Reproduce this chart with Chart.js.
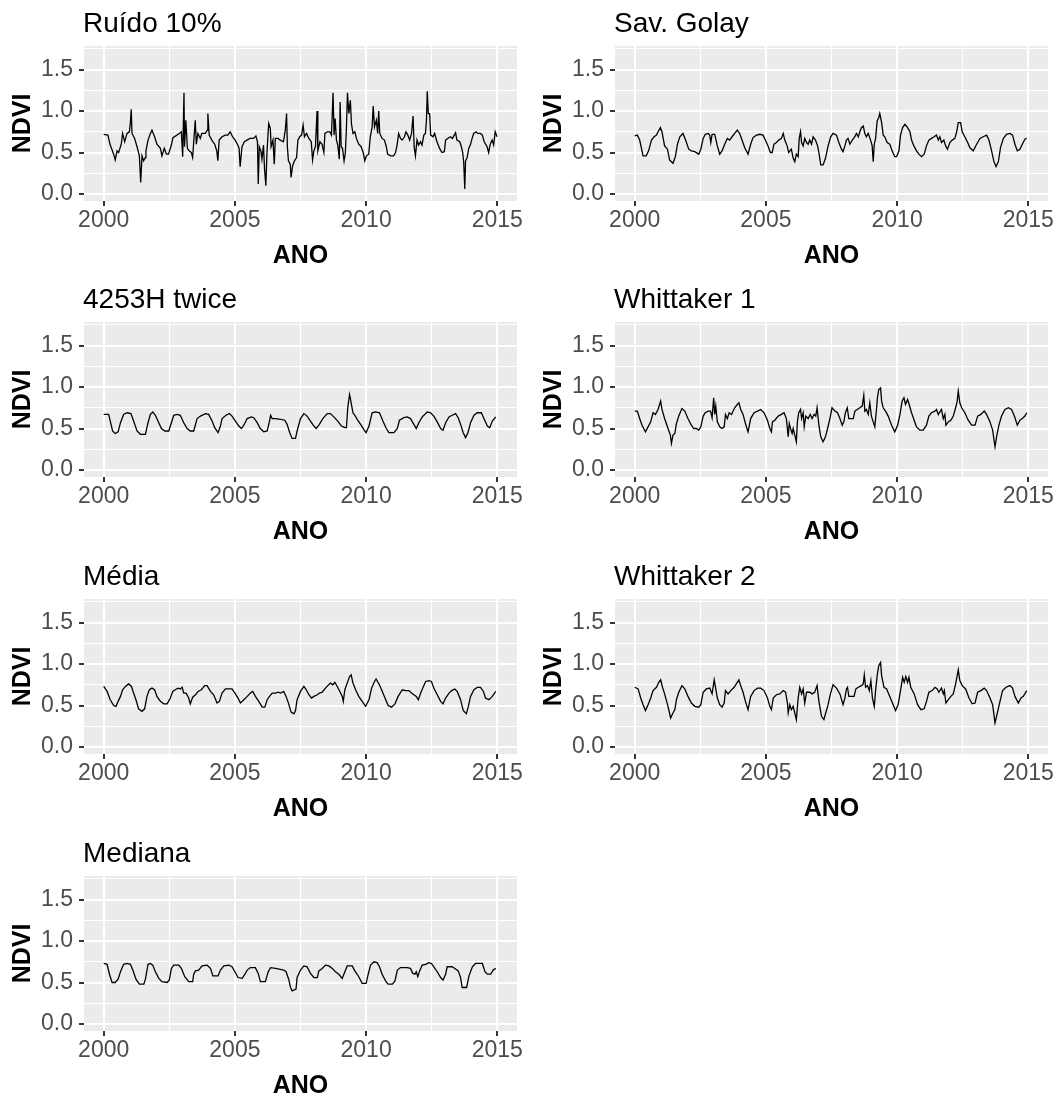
<!DOCTYPE html>
<html><head><meta charset="utf-8">
<script src="https://cdn.jsdelivr.net/npm/chart.js@4.4.1/dist/chart.umd.min.js"></script>
<style>
html,body{margin:0;padding:0;background:#fff;overflow:hidden;}
#wrap{position:relative;width:1059px;height:1099px;overflow:hidden;}
#wrap canvas{position:absolute;}
</style></head><body><div id="wrap"></div>
<script>
// ---- axes ----
const START_YEAR = 2000;
const xTickValues = [2000, 2005, 2010, 2015];
const xTickLabels = ['2000', '2005', '2010', '2015'];
const xMinorValues = [2002.5, 2007.5, 2012.5];
const yTickValues = [0, 0.5, 1, 1.5];
const yTickLabels = ['0.0', '0.5', '1.0', '1.5'];
const yMinorValues = [0.25, 0.75, 1.25, 1.75];
const panelTitles = ['Ruído 10%', 'Sav. Golay', '4253H twice', 'Whittaker 1', 'Média', 'Whittaker 2', 'Mediana'];
const xAxisTitle = 'ANO';
const yAxisTitle = 'NDVI';

// ---- series (t = years since START_YEAR, v = NDVI) ----
const ruidoT = [0,.16,.25,.38,.44,.51,.57,.67,.72,.80,.89,.98,1.02,1.05,1.08,1.18,1.27,1.36,1.41,1.46,1.52,1.59,1.61,1.69,1.78,1.84,1.94,2.03,2.16,2.22,2.31,2.39,2.47,2.58,2.64,2.79,2.88,2.96,3.01,3.06,3.08,3.13,3.19,3.26,3.34,3.39,3.44,3.49,3.53,3.59,3.68,3.74,3.87,3.95,3.97,4.02,4.12,4.23,4.31,4.35,4.40,4.51,4.63,4.73,4.82,4.91,5.01,5.11,5.16,5.20,5.27,5.36,5.46,5.58,5.71,5.80,5.86,5.89,5.93,5.99,6.03,6.09,6.13,6.18,6.22,6.26,6.29,6.35,6.38,6.45,6.50,6.54,6.64,6.73,6.85,6.92,6.97,7.00,7.04,7.11,7.14,7.20,7.27,7.35,7.40,7.47,
7.54,7.60,7.65,7.73,7.82,7.91,7.96,8.01,8.07,8.13,8.16,8.24,8.32,8.39,8.43,8.52,8.62,8.68,8.74,8.78,8.82,8.87,8.92,8.98,9.01,9.05,9.10,9.16,9.21,9.25,9.29,9.34,9.40,9.44,9.50,9.57,9.63,9.72,9.81,9.89,9.95,10.01,10.10,10.16,10.23,10.27,10.32,10.39,10.44,10.48,10.52,10.61,10.70,10.77,10.82,10.93,11.05,11.12,11.18,11.24,11.31,11.37,11.46,11.52,11.59,11.66,11.73,11.79,11.83,11.88,11.94,12.00,12.07,12.13,12.20,12.26,12.30,12.33,12.37,12.42,12.46,12.55,12.61,12.70,12.80,12.89,12.98,13.03,13.11,13.21,13.29,13.36,13.41,13.46,13.57,13.63,13.68,13.72,13.76,13.79,13.85,13.91,13.97,14.04,14.10,14.19,14.26,14.35,14.43,14.50,14.61,14.67,14.73,14.80,14.86,14.92,14.99];
const ruidoV = [.72,.71,.59,.48,.41,.52,.50,.60,.73,.63,.73,.75,.87,1.02,.73,.67,.57,.46,.14,.46,.40,.44,.52,.65,.73,.77,.69,.60,.55,.46,.55,.48,.48,.59,.68,.71,.73,.75,.45,1.22,.57,.89,.55,.52,.50,.44,.67,.89,.60,.73,.67,.73,.73,.77,.97,.71,.65,.60,.52,.40,.65,.69,.71,.71,.75,.69,.65,.59,.55,.33,.57,.63,.65,.67,.67,.70,.63,.12,.57,.52,.42,.59,.30,.10,.48,.71,.85,.79,.57,.65,.36,.67,.67,.65,.63,.77,.97,.57,.40,.36,.20,.34,.40,.44,.65,.69,
.71,.83,.69,.73,.67,.63,.41,.52,.57,1.00,.52,.63,.60,.50,.73,.75,.75,.71,1.22,.71,.91,.65,.59,.42,1.11,.57,.55,.40,.50,.79,1.22,.97,1.13,.85,.73,.75,.67,.60,.57,.50,.40,.46,.48,.69,.81,1.06,.81,.89,.73,1.00,.73,.67,.65,.57,.48,.46,.46,.50,.59,.73,.67,.65,.69,.75,.71,.65,.73,.94,.57,.46,.65,.59,.63,.59,.71,.73,.89,1.24,.97,.97,.71,.69,.73,.63,.55,.50,.51,.65,.67,.69,.67,.71,.74,.65,.63,.57,.50,.38,.06,.40,.44,.55,.59,.67,.73,.75,.73,.73,.71,.63,.57,.50,.60,.65,.59,.75,.69];

const savgolT = [0,.10,.19,.32,.44,.53,.64,.74,.83,.89,.98,1.04,1.14,1.25,1.33,1.46,1.55,1.63,1.72,1.84,1.94,2.06,2.16,2.29,2.44,2.52,2.61,2.69,2.80,2.86,2.90,2.95,3.05,3.15,3.24,3.33,3.43,3.53,3.62,3.71,3.81,3.91,4.00,4.09,4.19,4.32,4.42,4.51,4.64,4.77,4.89,4.98,5.08,5.17,5.24,5.31,5.40,5.49,5.59,5.66,5.72,5.81,5.87,5.97,6.04,6.10,6.16,6.23,6.27,6.32,6.36,6.42,6.48,6.55,6.61,6.67,6.74,6.80,6.89,6.97,7.03,7.09,7.18,7.27,7.37,7.47,7.56,7.69,7.78,7.88,7.94,8.01,8.07,8.13,8.20,8.29,8.39,8.45,8.52,8.58,8.64,8.71,8.77,8.83,8.90,8.99,9.05,9.09,9.13,9.18,9.24,9.30,9.34,9.41,9.47,9.53,9.62,9.72,9.81,9.91,9.98,10.07,10.13,10.21,10.30,10.40,10.49,10.55,10.64,10.74,10.83,10.93,11.03,11.12,11.21,11.31,11.41,11.50,11.57,11.63,11.69,11.78,11.85,11.92,12.01,12.10,12.20,12.27,12.33,12.42,12.48,12.58,12.69,12.77,12.90,13.03,13.16,13.28,13.41,13.50,13.60,13.69,13.77,13.86,13.94,14.05,14.17,14.30,14.40,14.49,14.58,14.68,14.77,14.87,14.94];
const savgolV = [.70,.71,.65,.46,.46,.52,.65,.69,.71,.75,.80,.75,.58,.54,.41,.37,.45,.60,.69,.73,.65,.54,.52,.51,.48,.54,.67,.72,.73,.71,.62,.72,.72,.58,.48,.52,.60,.67,.65,.69,.73,.77,.73,.65,.56,.48,.60,.68,.71,.72,.71,.65,.58,.50,.50,.60,.62,.65,.67,.73,.65,.58,.50,.54,.43,.39,.48,.45,.67,.75,.62,.58,.67,.62,.60,.65,.60,.69,.65,.58,.48,.35,.35,.43,.58,.69,.73,.71,.62,.54,.51,.58,.65,.67,.60,.65,.69,.73,.69,.75,.80,.82,.73,.69,.73,.65,.58,.39,.60,.67,.88,.92,.97,.86,.71,.69,.62,.60,.52,.45,.45,.52,.71,.80,.84,.80,.75,.65,.58,.52,.48,.45,.48,.58,.65,.67,.69,.71,.65,.69,.62,.65,.58,.54,.62,.65,.67,.75,.86,.86,.75,.69,.62,.56,.52,.60,.67,.69,.71,.65,.52,.39,.33,.39,.56,.67,.72,.73,.71,.60,.52,.54,.60,.66,.67];

const h4253T = [0,.19,.25,.34,.44,.55,.64,.76,.89,1.04,1.14,1.27,1.40,1.59,1.69,1.78,1.87,1.97,2.10,2.20,2.33,2.48,2.58,2.67,2.80,2.92,3.05,3.18,3.30,3.43,3.56,3.69,3.88,4.00,4.13,4.23,4.36,4.45,4.51,4.66,4.79,4.89,5.02,5.15,5.25,5.34,5.47,5.63,5.72,5.85,5.97,6.10,6.23,6.32,6.36,6.42,6.55,6.74,6.90,6.99,7.09,7.18,7.31,7.37,7.50,7.63,7.75,7.88,8.01,8.10,8.22,8.35,8.52,8.64,8.77,8.92,9.06,9.19,9.25,9.30,9.37,9.41,9.44,9.50,9.57,9.66,9.79,9.91,10.00,10.11,10.23,10.36,10.51,10.64,10.77,10.87,11.06,11.19,11.27,11.44,11.57,11.69,11.82,11.91,12.01,12.14,12.33,12.46,12.58,12.71,12.84,12.93,13.03,13.16,13.28,13.41,13.51,13.60,13.70,13.79,13.88,13.98,14.11,14.24,14.39,14.49,14.62,14.71,14.81,14.94];
const h4253V = [.67,.67,.59,.47,.44,.46,.57,.67,.69,.68,.59,.47,.43,.43,.57,.67,.70,.66,.57,.50,.47,.47,.57,.66,.67,.66,.57,.50,.47,.47,.62,.65,.68,.67,.59,.51,.45,.53,.62,.66,.68,.65,.59,.53,.50,.54,.62,.64,.63,.57,.50,.46,.47,.59,.66,.62,.62,.61,.60,.55,.45,.38,.38,.47,.62,.68,.65,.59,.53,.50,.55,.62,.68,.68,.64,.59,.53,.51,.51,.75,.91,.85,.79,.69,.66,.61,.55,.49,.45,.53,.69,.70,.69,.59,.50,.45,.45,.50,.60,.63,.64,.62,.55,.50,.57,.64,.70,.69,.65,.58,.50,.48,.57,.64,.66,.68,.63,.55,.45,.39,.45,.57,.66,.69,.69,.62,.53,.51,.59,.64];

const whit1T = [0,.10,.19,.28,.41,.51,.61,.70,.79,.89,.99,1.04,1.14,1.27,1.36,1.40,1.46,1.53,1.59,1.68,1.80,1.91,2.03,2.16,2.25,2.35,2.44,2.52,2.61,2.69,2.80,2.89,2.95,3.01,3.05,3.09,3.15,3.24,3.33,3.41,3.46,3.53,3.60,3.69,3.81,3.91,3.97,4.04,4.13,4.22,4.32,4.42,4.55,4.68,4.80,4.93,5.06,5.15,5.21,5.25,5.34,5.47,5.59,5.69,5.78,5.85,5.89,5.94,6.00,6.04,6.10,6.16,6.20,6.25,6.32,6.36,6.42,6.46,6.52,6.61,6.69,6.76,6.84,6.90,6.95,7.02,7.09,7.18,7.27,7.35,7.44,7.52,7.63,7.73,7.82,7.91,7.97,8.03,8.10,8.16,8.24,8.33,8.39,8.48,8.58,8.67,8.73,8.77,8.83,8.90,8.96,9.02,9.09,9.15,9.22,9.25,9.30,9.37,9.41,9.47,9.56,9.66,9.79,9.91,10.02,10.11,10.19,10.26,10.32,10.40,10.46,10.55,10.65,10.74,10.87,10.99,11.12,11.21,11.31,11.44,11.50,11.57,11.69,11.76,11.82,11.86,11.95,12.05,12.14,12.23,12.29,12.33,12.39,12.46,12.58,12.71,12.84,12.97,13.07,13.19,13.32,13.41,13.54,13.64,13.73,13.79,13.88,13.98,14.11,14.24,14.36,14.47,14.58,14.68,14.77,14.87,14.94];
const whit1V = [.71,.71,.62,.54,.46,.52,.58,.69,.67,.73,.83,.73,.62,.50,.42,.32,.42,.44,.56,.65,.74,.71,.62,.54,.50,.50,.48,.52,.65,.69,.71,.71,.63,.87,.67,.77,.58,.52,.50,.52,.67,.62,.69,.67,.75,.79,.81,.73,.67,.56,.46,.62,.69,.71,.73,.69,.60,.50,.46,.58,.60,.65,.67,.69,.62,.40,.56,.50,.44,.50,.42,.34,.58,.69,.73,.62,.69,.52,.65,.62,.67,.62,.67,.65,.75,.54,.40,.34,.40,.50,.62,.75,.71,.69,.62,.54,.58,.69,.75,.62,.62,.62,.71,.73,.75,.77,.90,.71,.73,.67,.81,.65,.58,.52,.75,.87,.97,.99,.83,.75,.71,.65,.54,.46,.54,.67,.83,.87,.79,.85,.79,.69,.60,.52,.48,.48,.54,.65,.69,.71,.73,.67,.73,.62,.67,.54,.58,.60,.65,.75,.83,.95,.81,.75,.69,.60,.54,.54,.65,.67,.71,.67,.58,.48,.28,.40,.54,.65,.73,.75,.73,.65,.54,.60,.62,.65,.69];

const mediaT = [0,.13,.25,.38,.47,.55,.64,.72,.83,.95,1.06,1.14,1.23,1.33,1.46,1.56,1.65,1.74,1.84,1.94,2.03,2.16,2.29,2.42,2.54,2.63,2.73,2.83,2.92,2.99,3.05,3.14,3.24,3.30,3.39,3.50,3.60,3.72,3.85,3.94,4.07,4.19,4.32,4.41,4.51,4.64,4.77,4.89,5.00,5.12,5.21,5.34,5.47,5.59,5.68,5.78,5.91,6.04,6.14,6.23,6.32,6.42,6.55,6.65,6.74,6.86,6.95,7.05,7.14,7.25,7.31,7.37,7.50,7.63,7.72,7.82,7.92,8.01,8.14,8.22,8.33,8.45,8.54,8.64,8.73,8.81,8.90,9.00,9.09,9.13,9.19,9.28,9.37,9.43,9.50,9.60,9.72,9.85,9.98,10.11,10.21,10.32,10.38,10.49,10.59,10.72,10.84,10.97,11.10,11.22,11.38,11.50,11.63,11.73,11.82,11.91,11.99,12.08,12.16,12.27,12.39,12.49,12.58,12.71,12.84,12.93,13.03,13.16,13.26,13.38,13.47,13.60,13.70,13.82,13.89,13.98,14.11,14.24,14.36,14.47,14.55,14.68,14.81,14.94];
const mediaV = [.73,.67,.57,.50,.49,.55,.61,.69,.73,.76,.73,.65,.57,.46,.43,.46,.61,.69,.71,.69,.61,.55,.52,.52,.59,.67,.69,.71,.70,.72,.65,.65,.59,.52,.60,.63,.67,.69,.74,.74,.67,.63,.53,.55,.65,.70,.70,.70,.65,.59,.53,.57,.61,.65,.67,.61,.55,.48,.48,.57,.61,.65,.65,.66,.65,.67,.61,.52,.42,.40,.44,.57,.67,.73,.69,.63,.59,.61,.63,.65,.66,.71,.74,.77,.75,.78,.73,.67,.61,.55,.69,.77,.85,.87,.77,.69,.61,.55,.49,.57,.71,.79,.82,.76,.69,.59,.50,.48,.52,.61,.69,.68,.68,.65,.63,.61,.57,.65,.71,.79,.80,.79,.71,.63,.55,.52,.59,.65,.68,.70,.67,.57,.44,.40,.48,.61,.69,.72,.72,.67,.59,.57,.61,.67];

const whit2T = [0,.13,.23,.32,.41,.51,.61,.70,.83,.92,.99,1.06,1.14,1.27,1.37,1.46,1.53,1.59,1.68,1.80,1.91,2.03,2.16,2.29,2.44,2.52,2.61,2.73,2.86,2.95,3.03,3.08,3.15,3.24,3.33,3.41,3.46,3.56,3.66,3.79,3.91,3.97,4.04,4.13,4.22,4.32,4.42,4.55,4.68,4.80,4.93,5.06,5.15,5.21,5.28,5.40,5.53,5.66,5.75,5.82,5.85,5.91,5.97,6.04,6.10,6.16,6.23,6.29,6.36,6.42,6.48,6.55,6.67,6.76,6.86,6.95,7.02,7.12,7.21,7.28,7.37,7.46,7.56,7.69,7.82,7.94,8.01,8.07,8.11,8.16,8.26,8.36,8.43,8.52,8.64,8.71,8.75,8.80,8.87,8.94,9.00,9.06,9.13,9.18,9.24,9.30,9.37,9.41,9.50,9.60,9.72,9.85,9.94,10.04,10.13,10.21,10.27,10.33,10.40,10.45,10.52,10.65,10.78,10.91,11.03,11.12,11.21,11.34,11.44,11.53,11.59,11.69,11.76,11.80,11.86,11.95,12.05,12.14,12.23,12.29,12.33,12.39,12.48,12.61,12.74,12.86,12.97,13.07,13.19,13.32,13.41,13.54,13.64,13.73,13.82,13.92,14.02,14.15,14.30,14.40,14.49,14.62,14.72,14.81,14.94];
const whit2V = [.72,.70,.59,.51,.44,.51,.59,.68,.72,.78,.81,.72,.64,.49,.35,.41,.45,.57,.66,.74,.70,.61,.53,.49,.48,.51,.66,.70,.71,.64,.81,.72,.59,.51,.48,.53,.68,.64,.68,.72,.78,.81,.74,.66,.55,.45,.61,.68,.71,.71,.68,.59,.49,.45,.59,.63,.64,.68,.66,.53,.41,.51,.45,.49,.41,.33,.59,.72,.64,.70,.53,.66,.66,.64,.66,.74,.55,.37,.33,.41,.51,.64,.75,.71,.64,.51,.59,.70,.72,.61,.61,.61,.70,.72,.74,.76,.87,.72,.74,.68,.80,.59,.49,.68,.86,.98,1.02,.86,.72,.70,.61,.51,.44,.51,.68,.84,.78,.85,.78,.84,.72,.64,.51,.45,.46,.55,.66,.68,.72,.70,.66,.71,.64,.68,.53,.57,.61,.64,.76,.86,.93,.80,.74,.70,.59,.52,.53,.66,.68,.71,.68,.59,.51,.29,.41,.55,.68,.72,.74,.71,.61,.53,.59,.61,.68];

const medianaT = [0,.13,.22,.32,.44,.55,.64,.76,.89,1.02,1.11,1.23,1.36,1.53,1.59,1.69,1.78,1.87,1.97,2.10,2.22,2.42,2.50,2.58,2.67,2.86,2.96,3.09,3.24,3.39,3.43,3.50,3.62,3.75,3.94,4.07,4.16,4.36,4.45,4.58,4.77,4.89,5.00,5.12,5.28,5.38,5.47,5.59,5.78,5.89,5.97,6.16,6.27,6.36,6.55,6.86,6.95,7.05,7.12,7.18,7.33,7.37,7.50,7.63,7.75,7.88,8.01,8.14,8.20,8.33,8.45,8.58,8.71,8.83,8.96,9.09,9.19,9.28,9.47,9.57,9.72,9.85,10.00,10.08,10.17,10.30,10.42,10.51,10.61,10.74,10.84,11.00,11.10,11.19,11.31,11.57,11.69,11.78,11.86,11.91,11.97,12.04,12.14,12.27,12.39,12.49,12.58,12.71,12.84,12.93,13.03,13.09,13.28,13.38,13.51,13.60,13.66,13.83,13.92,14.05,14.17,14.43,14.53,14.62,14.75,14.84,14.94];
const medianaV = [.73,.72,.60,.50,.50,.54,.63,.72,.73,.72,.65,.54,.48,.48,.54,.72,.73,.71,.63,.55,.51,.50,.53,.67,.71,.71,.67,.57,.51,.51,.60,.64,.65,.70,.71,.67,.58,.58,.65,.70,.71,.69,.63,.56,.55,.60,.65,.68,.68,.61,.51,.51,.63,.68,.67,.65,.63,.54,.44,.40,.42,.56,.65,.70,.69,.61,.56,.56,.64,.67,.71,.70,.67,.63,.60,.55,.63,.70,.70,.64,.57,.49,.49,.60,.71,.75,.74,.69,.60,.52,.48,.48,.52,.65,.68,.68,.67,.61,.60,.63,.57,.64,.71,.72,.74,.73,.69,.63,.56,.53,.60,.69,.69,.67,.64,.56,.44,.44,.58,.69,.73,.73,.63,.60,.60,.65,.67];

const panelSeries = [
  [ruidoT, ruidoV], [savgolT, savgolV], [h4253T, h4253V], [whit1T, whit1V],
  [mediaT, mediaV], [whit2T, whit2V], [medianaT, medianaV]
];

// ---- layout ----
const FONT = '"Liberation Sans", Arial, Helvetica, sans-serif';
Chart.defaults.font.family = FONT;
const colLeft = [0, 531];
const rowTop = [0, 276, 553, 830];
const CW = 530, CH = 275;

const panelDeco = {
  id: 'panelDeco',
  beforeDraw(chart) {
    const {ctx, chartArea: a} = chart;
    ctx.save();
    ctx.fillStyle = '#FFFFFF';
    ctx.fillRect(0, 0, chart.width, chart.height);
    ctx.fillStyle = '#EBEBEB';
    ctx.fillRect(a.left, a.top, a.right - a.left, a.bottom - a.top);
    ctx.restore();
  },
  afterDraw(chart, args, opts) {
    const {ctx, chartArea: a} = chart;
    ctx.save();
    ctx.fillStyle = '#000000';
    ctx.font = '28px ' + FONT;
    ctx.textAlign = 'left';
    ctx.textBaseline = 'alphabetic';
    ctx.fillText(opts.title, a.left - 1, 32);
    ctx.restore();
  }
};

const isIn = (arr, v) => arr.some(a => Math.abs(a - v) < 1e-9);
const wrap = document.getElementById('wrap');

panelTitles.forEach((title, i) => {
  const col = i % 2, row = Math.floor(i / 2);
  const cv = document.createElement('canvas');
  cv.width = CW; cv.height = CH;
  cv.style.left = colLeft[col] + 'px';
  cv.style.top = rowTop[row] + 'px';
  cv.style.width = CW + 'px'; cv.style.height = CH + 'px';
  wrap.appendChild(cv);
  const [T, V] = panelSeries[i];
  new Chart(cv.getContext('2d'), {
    type: 'line',
    data: {
      datasets: [{
        data: T.map((t, k) => ({x: START_YEAR + t, y: V[k]})),
        borderColor: '#000000', borderWidth: 1.3, pointRadius: 0, tension: 0, fill: false
      }]
    },
    plugins: [panelDeco],
    options: {
      responsive: false, animation: false, devicePixelRatio: 1, events: [],
      layout: {padding: {top: 46, right: 13, left: 0, bottom: 0}},
      plugins: {legend: {display: false}, tooltip: {enabled: false}, panelDeco: {title: title}},
      scales: {
        x: {
          type: 'linear', min: 1999.25, max: 2015.75,
          afterBuildTicks: s => { s.ticks = xTickValues.concat(xMinorValues).sort((a, b) => a - b).map(v => ({value: v})); },
          afterFit: s => { s.height = 74; },
          border: {display: false},
          grid: {
            color: '#FFFFFF',
            lineWidth: c => (c.tick && isIn(xTickValues, c.tick.value)) ? 2 : 1,
            tickColor: c => (c.tick && isIn(xTickValues, c.tick.value)) ? '#333333' : 'rgba(0,0,0,0)',
            tickLength: 5, tickWidth: 2
          },
          ticks: {
            autoSkip: false, maxRotation: 0, padding: 1, color: '#4D4D4D', font: {size: 23},
            callback: v => { const k = xTickValues.findIndex(a => Math.abs(a - v) < 1e-9); return k >= 0 ? xTickLabels[k] : ''; }
          },
          title: {display: true, text: xAxisTitle, color: '#000000', font: {size: 25, weight: 'bold'}, padding: {top: 0, bottom: 4}}
        },
        y: {
          type: 'linear', min: -0.085, max: 1.785,
          afterBuildTicks: s => { s.ticks = yTickValues.concat(yMinorValues).sort((a, b) => a - b).map(v => ({value: v})); },
          afterFit: s => { s.width = 84; },
          border: {display: false},
          grid: {
            color: '#FFFFFF',
            lineWidth: c => (c.tick && isIn(yTickValues, c.tick.value)) ? 2 : 1,
            tickColor: c => (c.tick && isIn(yTickValues, c.tick.value)) ? '#333333' : 'rgba(0,0,0,0)',
            tickLength: 5, tickWidth: 2
          },
          ticks: {
            autoSkip: false, padding: 6, color: '#4D4D4D', font: {size: 23},
            callback: v => { const k = yTickValues.findIndex(a => Math.abs(a - v) < 1e-9); return k >= 0 ? yTickLabels[k] : ''; }
          },
          title: {display: true, text: yAxisTitle, color: '#000000', font: {size: 25, weight: 'bold'}, padding: {top: 8, bottom: 0}}
        }
      }
    }
  });
});
</script>
</body></html>
